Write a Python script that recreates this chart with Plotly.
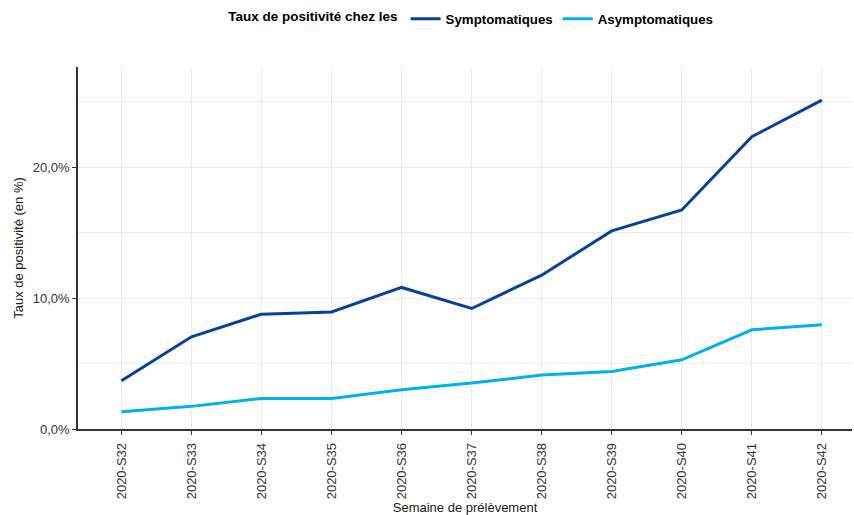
import plotly.graph_objects as go

weeks = ["2020-S32", "2020-S33", "2020-S34", "2020-S35", "2020-S36", "2020-S37",
         "2020-S38", "2020-S39", "2020-S40", "2020-S41", "2020-S42"]
symptomatiques = [3.69, 7.05, 8.78, 8.95, 10.82, 9.21, 11.76, 15.14, 16.74, 22.34, 25.14]
asymptomatiques = [1.32, 1.73, 2.34, 2.34, 3.00, 3.51, 4.12, 4.40, 5.29, 7.58, 7.96]

y_tickvals = [0, 10, 20]
y_ticktext = ["0,0%", "10,0%", "20,0%"]

FONT = "Liberation Sans, Arial, sans-serif"

fig = go.Figure()
fig.add_trace(go.Scatter(x=weeks, y=symptomatiques, mode="lines", name="Symptomatiques",
                         line=dict(color="#07429A", width=3)))
fig.add_trace(go.Scatter(x=weeks, y=asymptomatiques, mode="lines", name="Asymptomatiques",
                         line=dict(color="#00B2E8", width=3)))

fig.update_layout(
    width=854, height=515,
    margin=dict(l=78, r=2, t=67, b=86),
    paper_bgcolor="white", plot_bgcolor="white",
    font=dict(family=FONT, size=13, color="#1a1a1a"),
    legend=dict(
        orientation="h",
        title=dict(text="<b>Taux de positivité chez les</b>", font=dict(size=13.5, color="black")),
        font=dict(size=13.3, color="black", weight="bold"),
        xref="container", yref="container",
        x=0.553, xanchor="center", y=1 - 19 / 515, yanchor="middle",
        itemwidth=30,
    ),
    xaxis=dict(
        type="category",
        range=[-0.62, 10.43],
        showline=True, linecolor="#333333", linewidth=1.5,
        ticks="outside", ticklen=4, tickcolor="#333333",
        tickangle=-90, ticklabelstandoff=3,
        tickfont=dict(size=13, color="#333333"),
        showgrid=True, gridcolor="#ebebeb", gridwidth=1,
        zeroline=False,
        title=dict(text="Semaine de prélèvement", font=dict(size=13, color="#1a1a1a"), standoff=5),
    ),
    yaxis=dict(
        range=[0, 27.67],
        tickvals=y_tickvals, ticktext=y_ticktext,
        showline=True, linecolor="#333333", linewidth=1.5,
        ticks="outside", ticklen=4, tickcolor="#333333",
        tickfont=dict(size=13, color="#333333"),
        showgrid=True, gridcolor="#ebebeb", gridwidth=1,
        minor=dict(dtick=5, tick0=0, showgrid=True, gridcolor="#ebebeb", gridwidth=1, ticks=""),
        zeroline=False,
        title=dict(text="Taux de positivité (en %)", font=dict(size=13, color="#1a1a1a"), standoff=6),
    ),
)

fig.write_html("out.html", config={"displayModeBar": False},
               post_script="document.body.style.margin='0';")
